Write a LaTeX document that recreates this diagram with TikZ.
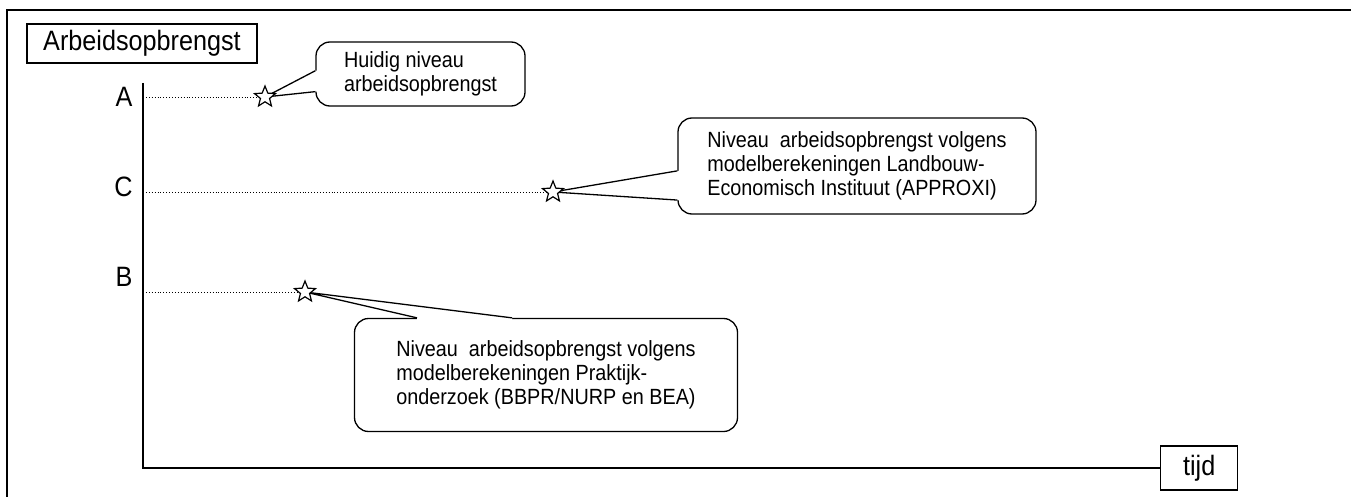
\documentclass[tikz,border=0pt]{standalone}
\usepackage{fontspec}
\setmainfont{Liberation Sans}[FakeStretch=0.9]
\usetikzlibrary{shapes.geometric,calc}
\tikzset{
  kader/.style={draw,line width=1.3pt,inner sep=0pt,font=\fontsize{28}{32}\selectfont},
  ballon/.style={draw,line width=1.3pt,rounded corners=14pt,fill=white,align=left,font=\fontsize{22}{24}\selectfont},
  wijzer/.style={line width=1.3pt,line join=miter},
  ster/.style={star,star points=5,star point ratio=2.3,minimum size=22pt,inner sep=0pt,draw,fill=white,line width=1.2pt},
  niveau/.style={dotted,line width=0.9pt},
  letter/.style={font=\fontsize{28}{32}\selectfont,anchor=east}
}
\begin{document}
\begin{tikzpicture}[x=1pt,y=-1pt]
\useasboundingbox (0,0) rectangle (1351,497);
\draw[line width=2pt] (7,497) -- (7,10) -- (1351,10);

\node[kader,minimum width=230pt,minimum height=39pt] (opbrengst) at (142,43.5) {Arbeidsopbrengst};
\node[kader,minimum width=77pt,minimum height=44pt,anchor=west] (tijd) at (1160,468) {tijd};
\coordinate (top) at (143,83);
\coordinate (oorsprong) at (143,468);
\draw[line width=1.5pt] (top) -- (oorsprong) -- (tijd.west);

\node[letter] (A) at (136,97) {A};
\node[letter] (C) at (136,187) {C};
\node[letter] (B) at (136,277) {B};

\coordinate (pA) at (265,97);
\coordinate (pC) at (553,192);
\coordinate (pB) at (305,292);

\node[ballon,minimum width=209pt,minimum height=64pt] (huidig) at (420.5,74) {Huidig niveau\\arbeidsopbrengst};
\node[ballon,minimum width=358pt,minimum height=96pt] (lei) at (857,166) {Niveau\ \ arbeidsopbrengst volgens\\modelberekeningen Landbouw-\\Economisch Instituut (APPROXI)};
\node[ballon,minimum width=383pt,minimum height=113pt] (praktijk) at (546,375) {Niveau\ \ arbeidsopbrengst volgens\\modelberekeningen Praktijk-\\onderzoek (BBPR/NURP en BEA)};

\coordinate (h1) at ($(huidig.north west)!0.45!(huidig.south west)$);
\coordinate (h2) at ($(huidig.north west)!0.77!(huidig.south west)$);
\fill[white] (h1) -- (pA) -- (h2) -- ++(3,0) -- ($(h1)+(3,0)$) -- cycle;
\draw[wijzer] (h1) -- (pA) -- (h2);

\coordinate (l1) at ($(lei.north west)!0.55!(lei.south west)$);
\coordinate (l2) at ($(lei.north west)!0.85!(lei.south west)$);
\fill[white] (l1) -- (pC) -- (l2) -- ++(3,0) -- ($(l1)+(3,0)$) -- cycle;
\draw[wijzer] (l1) -- (pC) -- (l2);

\coordinate (k1) at (praktijk.north west -| 417,0);
\coordinate (k2) at (praktijk.north west -| 512,0);
\fill[white] (k1) -- (pB) -- (k2) -- ++(0,3) -- ($(k1)+(0,3)$) -- cycle;
\draw[wijzer] (k1) -- (pB) -- (k2);

\draw[niveau] (top |- pA) -- (pA);
\draw[niveau] (top |- pC) -- (pC);
\draw[niveau] (top |- pB) -- (pB);

\node[ster] (sterA) at (pA) {};
\node[ster] (sterC) at (pC) {};
\node[ster] (sterB) at (pB) {};
\end{tikzpicture}
\end{document}
